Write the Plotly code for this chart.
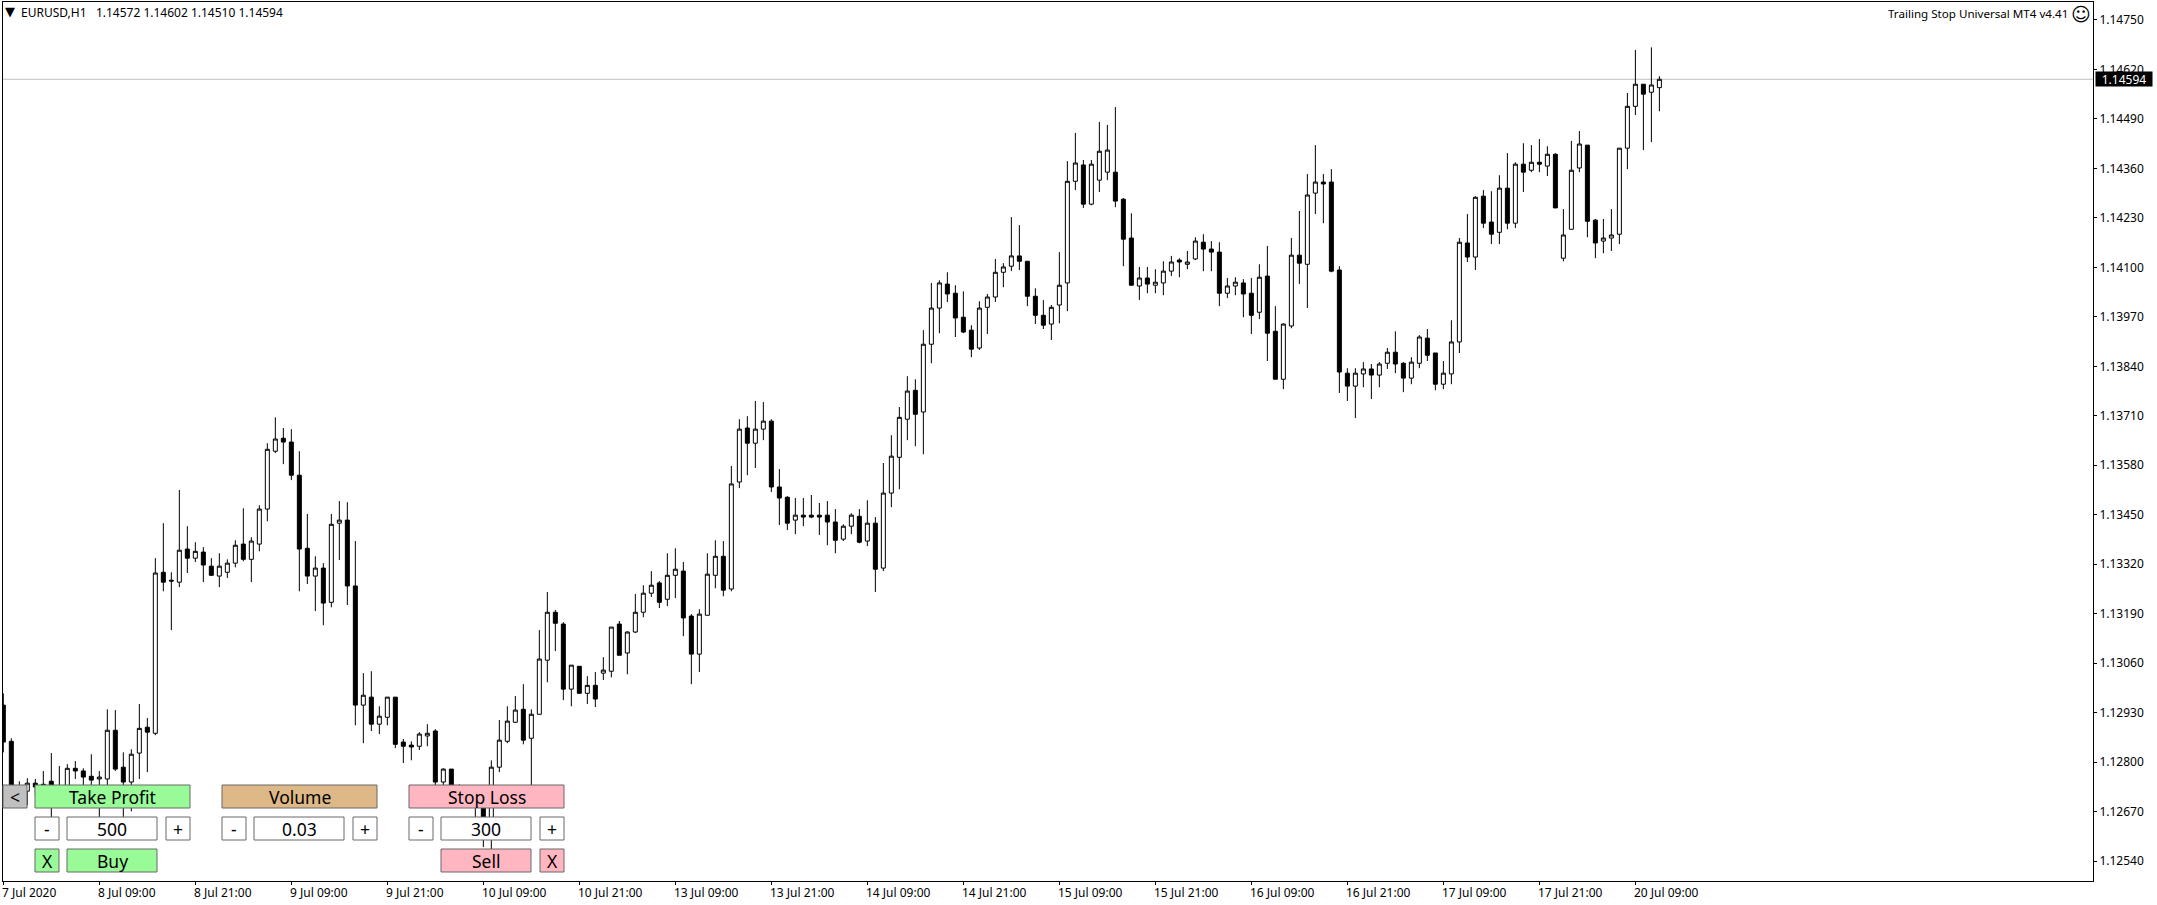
import plotly.graph_objects as go

# EURUSD H1 prices, quoted in points (1 point = 0.00001)
open_pts = [
112950,112855,112721,112724,112745,112742,112750,112713,112727,112784,
112777,112763,112756,112756,112884,112787,112748,112824,112892,112876,
113299,113278,113273,113360,113336,113352,113315,113289,113299,113323,
113373,113333,113373,113465,113617,113651,113641,113554,113362,113289,
113310,113220,113428,113436,113263,112950,112971,112900,112918,112971,
112853,112845,112842,112869,112882,112748,112782,112737,112727,112713,
112687,112622,112787,112855,112905,112939,112863,112926,113068,113194,
113163,112992,113052,112981,113002,113034,113039,113163,113087,113142,
113194,113244,113271,113228,113291,113302,113184,113084,113186,113291,
113341,113255,113536,113678,113638,113675,113696,113523,113496,113436,
113449,113449,113449,113449,113431,113386,113420,113446,113381,113428,
113310,113507,113601,113701,113777,113720,113898,113993,114056,114032,
113969,113935,113888,113995,114022,114087,114103,114130,114116,114024,
113974,113951,114001,114059,114326,114369,114266,114329,114350,114350,
114279,114177,114051,114072,114053,114059,114090,114119,114108,114122,
114166,114148,114140,114032,114051,114059,114032,113982,114077,113932,
113806,113946,114132,114108,114295,114324,114324,114093,113822,113788,
113820,113833,113817,113848,113877,113848,113809,113848,113914,113875,
113793,113820,113904,114164,114127,114287,114219,114192,114308,114216,
114371,114355,114376,114366,114397,114124,114200,114361,114421,114224,
114169,114177,114187,114413,114523,114581,114560,114572]
high_pts = [
112981,112863,112750,112758,112756,112777,112824,112790,112795,112803,
112784,112821,112777,112939,112937,112826,112834,112953,112916,113336,
113428,113299,113515,113420,113378,113365,113336,113349,113333,113383,
113467,113391,113475,113638,113706,113678,113675,113617,113452,113341,
113323,113452,113486,113483,113381,113034,113039,112947,112971,112971,
112861,112855,112879,112900,112887,112784,112782,112742,112740,112727,
112713,112805,112911,112947,112974,113005,112939,113147,113247,113200,
113168,113055,113052,113026,113037,113076,113155,113171,113144,113242,
113265,113302,113276,113349,113362,113326,113189,113202,113349,113383,
113381,113578,113701,113709,113749,113746,113701,113570,113499,113494,
113494,113502,113481,113486,113465,113425,113454,113465,113488,113444,
113586,113659,113733,113814,113806,113935,114059,114066,114087,114053,
114037,113948,114011,114030,114122,114111,114232,114211,114116,114045,
114014,114001,114140,114379,114453,114382,114382,114482,114474,114521,
114282,114242,114101,114101,114095,114116,114130,114124,114143,114179,
114187,114169,114166,114072,114074,114069,114072,114108,114156,113998,
113953,114177,114248,114345,114421,114345,114358,114103,113835,113835,
113851,113846,113851,113888,113932,113851,113864,113922,113938,113875,
113854,113961,114177,114240,114287,114303,114300,114342,114400,114376,
114426,114421,114437,114418,114400,114253,114432,114458,114421,114227,
114227,114253,114413,114558,114671,114581,114678,114602]
low_pts = [
112826,112706,112713,112687,112713,112713,112656,112700,112713,112756,
112735,112713,112656,112727,112777,112656,112671,112756,112774,112871,
113249,113147,113260,113297,113326,113273,113289,113260,113284,113312,
113328,113273,113354,113433,113612,113583,113541,113249,113268,113197,
113160,113207,113331,113213,112897,112850,112882,112874,112897,112837,
112798,112805,112832,112842,112740,112737,112732,112713,112700,112622,
112577,112572,112774,112850,112903,112847,112700,112926,113010,113092,
112963,112947,112981,112953,112945,113016,113023,113081,113031,113139,
113181,113234,113205,113210,113231,113131,113005,113037,113186,113257,
113236,113249,113520,113554,113573,113646,113510,113423,113410,113399,
113420,113441,113397,113370,113349,113381,113399,113375,113368,113247,
113302,113470,113517,113646,113630,113609,113848,113927,114009,113917,
113927,113864,113883,113925,114009,114048,114090,114093,113998,113951,
113938,113909,113953,113985,114303,114256,114263,114298,114329,114258,
114103,114053,114014,114032,114032,114027,114077,114074,114095,114119,
114090,114090,113998,114019,114027,113969,113925,113964,113854,113806,
113780,113940,114056,113993,114240,114216,114087,113770,113749,113704,
113785,113754,113785,113833,113822,113772,113793,113835,113854,113777,
113780,113793,113875,114114,114093,114203,114161,114161,114200,114203,
114298,114350,114350,114340,114256,114116,114200,114350,114179,114124,
114137,114143,114161,114358,114500,114408,114429,114510]
close_pts = [
112853,112719,112737,112745,112735,112737,112727,112737,112784,112777,
112761,112753,112761,112884,112782,112748,112821,112889,112879,113297,
113273,113276,113357,113336,113354,113318,113291,113315,113323,113370,
113333,113381,113465,113622,113649,113641,113554,113360,113289,113310,
113218,113425,113436,113263,112950,112976,112900,112921,112971,112847,
112842,112840,112874,112876,112748,112782,112737,112727,112713,112687,
112622,112787,112858,112908,112937,112858,112926,113071,113194,113165,
112992,113055,112981,113002,112966,113042,113155,113081,113142,113194,
113244,113265,113220,113291,113307,113179,113084,113189,113294,113341,
113252,113531,113675,113638,113675,113696,113523,113494,113428,113449,
113444,113444,113444,113431,113383,113420,113449,113378,113428,113307,
113507,113604,113706,113775,113714,113898,113993,114059,114030,113967,
113930,113885,113993,114022,114087,114101,114130,114116,114024,113974,
113948,113995,114053,114326,114374,114266,114371,114405,114408,114274,
114174,114053,114072,114056,114061,114090,114114,114114,114114,114169,
114148,114140,114032,114051,114061,114030,113974,114074,113927,113806,
113951,114132,114111,114290,114324,114319,114090,113825,113788,113822,
113833,113817,113846,113877,113846,113809,113851,113917,113869,113793,
113822,113904,114166,114127,114284,114216,114187,114308,114216,114371,
114350,114376,114371,114397,114256,114185,114355,114424,114221,114164,
114177,114185,114413,114523,114581,114555,114579,114594]

price_ticks = [1.14750,1.14620,1.14490,1.14360,1.14230,1.14100,1.13970,1.13840,1.13710,
               1.13580,1.13450,1.13320,1.13190,1.13060,1.12930,1.12800,1.12670,1.12540]
time_labels = ["7 Jul 2020","8 Jul 09:00","8 Jul 21:00","9 Jul 09:00","9 Jul 21:00",
               "10 Jul 09:00","10 Jul 21:00","13 Jul 09:00","13 Jul 21:00","14 Jul 09:00",
               "14 Jul 21:00","15 Jul 09:00","15 Jul 21:00","16 Jul 09:00","16 Jul 21:00",
               "17 Jul 09:00","17 Jul 21:00","20 Jul 09:00"]
last_price = 1.14594
header = "EURUSD,H1\u00a0\u00a0\u00a01.14572 1.14602 1.14510 1.14594"
expert = "Trailing Stop Universal MT4 v4.41"

bars = list(range(len(open_pts)))
P = lambda a: [v / 1e5 for v in a]

W, H = 2157, 905
L, R, T, B = 3, 64, 2, 24
FONT = "Noto Sans"
px = lambda x: (x - L) / (W - L - R)
py = lambda y: 1 - (y - T) / (H - T - B)

fig = go.Figure(go.Candlestick(
    x=bars, open=P(open_pts), high=P(high_pts), low=P(low_pts), close=P(close_pts),
    whiskerwidth=0, hoverinfo="skip",
    increasing=dict(fillcolor="#FFFFFF", line=dict(color="#000000", width=1)),
    decreasing=dict(fillcolor="#000000", line=dict(color="#000000", width=1)),
))

shapes = [dict(type="line", xref="paper", x0=0, x1=1, yref="y", y0=last_price, y1=last_price,
               layer="below", line=dict(color="#C0C0C0", width=1))]
annotations = []

def label(text, x, y, size=12, color="#000000", anchor="center", family=FONT, **kw):
    annotations.append(dict(text=text, xref="paper", yref="paper", x=px(x), y=py(y),
                            xanchor=anchor, yanchor="middle", showarrow=False,
                            font=dict(family=family, size=size, color=color), **kw))

GREEN, TAN, PINK, GREY = "#98FB98", "#DEB887", "#FFB6C1", "#C0C0C0"
buttons = [
    ("<", 3, 785, 27, 808, GREY), ("Take Profit", 35, 785, 190, 808, GREEN),
    ("-", 35, 817, 59, 840, "#FFFFFF"), ("500", 67, 817, 157, 840, "#FFFFFF"), ("+", 166, 817, 190, 840, "#FFFFFF"),
    ("X", 35, 849, 59, 872, GREEN), ("Buy", 67, 849, 157, 872, GREEN),
    ("Volume", 222, 785, 377, 808, TAN),
    ("-", 222, 817, 246, 840, "#FFFFFF"), ("0.03", 254, 817, 344, 840, "#FFFFFF"), ("+", 353, 817, 377, 840, "#FFFFFF"),
    ("Stop Loss", 409, 785, 564, 808, PINK),
    ("-", 409, 817, 433, 840, "#FFFFFF"), ("300", 441, 817, 531, 840, "#FFFFFF"), ("+", 540, 817, 564, 840, "#FFFFFF"),
    ("Sell", 441, 849, 531, 872, PINK), ("X", 540, 849, 564, 872, PINK),
]
for text, x0, y0, x1, y1, fill in buttons:
    shapes.append(dict(type="rect", xref="paper", yref="paper", x0=px(x0), x1=px(x1), y0=py(y0), y1=py(y1),
                       fillcolor=fill, line=dict(color="#696969", width=1), layer="above"))
    label(text, (x0 + x1) / 2, (y0 + y1) / 2, size=17.5)

label("▼", 10, 12, size=13, family="DejaVu Sans")
label(header, 19, 12.5, anchor="left")
label(expert, 2070, 13.5, size=11.6, anchor="right")
label("☺", 2081, 13.5, size=19, family="DejaVu Sans")
for i, t in zip(bars[::12], time_labels):
    annotations.append(dict(text=t, xref="x", yref="paper", x=i, y=py(892), xanchor="left", xshift=-3,
                            yanchor="middle", showarrow=False, font=dict(family=FONT, size=12, color="#000000")))
annotations.append(dict(text=f"{last_price:.5f}", xref="paper", yref="y", x=px(2095), y=last_price,
                        xanchor="left", yanchor="middle", showarrow=False, bgcolor="#000000", width=54, height=12,
                        align="center", font=dict(family=FONT, size=12, color="#FFFFFF")))

fig.update_layout(
    width=W, height=H, margin=dict(l=L, r=R, t=T, b=B, pad=0),
    paper_bgcolor="#FFFFFF", plot_bgcolor="#FFFFFF", showlegend=False, boxgap=0.5, boxgroupgap=0,
    shapes=shapes, annotations=annotations, font=dict(family=FONT, size=12, color="#000000"),
    xaxis=dict(range=[-0.04, 261.2], rangeslider=dict(visible=False), showgrid=False, zeroline=False,
               showline=True, linecolor="#000000", linewidth=1, mirror=True,
               tickmode="array", tickvals=bars[::12], ticks="outside", ticklen=3, tickcolor="#000000",
               showticklabels=False),
    yaxis=dict(range=[1.12488, 1.14797], side="right", showgrid=False, zeroline=False,
               showline=True, linecolor="#000000", linewidth=1, mirror=True,
               tickmode="array", tickvals=price_ticks, ticktext=[f"{v:.5f}" for v in price_ticks],
               ticks="outside", ticklen=3, tickcolor="#000000", tickfont=dict(family=FONT, size=12, color="#000000")),
)
fig.write_html("out.html", config=dict(displayModeBar=False),
               post_script="document.body.style.margin='0';document.documentElement.style.overflow='hidden';")
